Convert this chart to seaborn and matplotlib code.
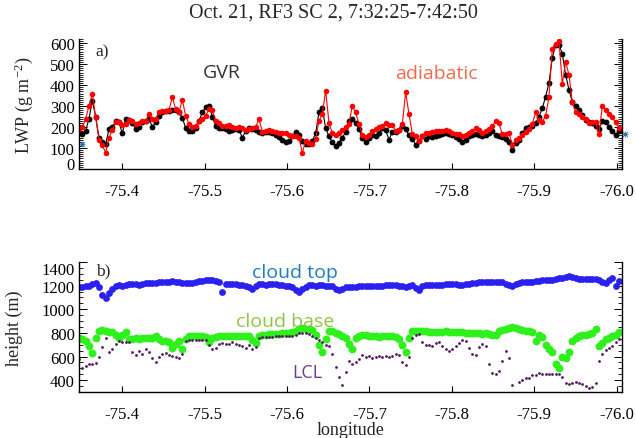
import numpy as np
import pandas as pd
import matplotlib
matplotlib.use("Agg")
import matplotlib.pyplot as plt
import seaborn as sns
from matplotlib.ticker import MultipleLocator, FixedLocator, FormatStrFormatter

# ---------------- data ----------------
lon = [
    -75.3475, -75.3515, -75.3556, -75.3596, -75.3637, -75.3677, -75.3718, -75.3758, -75.3799, -75.3839,
    -75.3880, -75.3920, -75.3960, -75.4001, -75.4041, -75.4082, -75.4122, -75.4163, -75.4203, -75.4244,
    -75.4284, -75.4324, -75.4365, -75.4405, -75.4446, -75.4486, -75.4527, -75.4567, -75.4608, -75.4648,
    -75.4689, -75.4729, -75.4769, -75.4810, -75.4850, -75.4891, -75.4931, -75.4972, -75.5012, -75.5053,
    -75.5093, -75.5133, -75.5174, -75.5214, -75.5255, -75.5295, -75.5336, -75.5376, -75.5417, -75.5457,
    -75.5498, -75.5538, -75.5578, -75.5619, -75.5659, -75.5700, -75.5740, -75.5781, -75.5821, -75.5862,
    -75.5902, -75.5942, -75.5983, -75.6023, -75.6064, -75.6104, -75.6145, -75.6185, -75.6226, -75.6266,
    -75.6307, -75.6347, -75.6387, -75.6428, -75.6468, -75.6509, -75.6549, -75.6590, -75.6630, -75.6671,
    -75.6711, -75.6751, -75.6792, -75.6832, -75.6873, -75.6913, -75.6954, -75.6994, -75.7035, -75.7075,
    -75.7116, -75.7156, -75.7196, -75.7237, -75.7277, -75.7318, -75.7358, -75.7399, -75.7439, -75.7480,
    -75.7520, -75.7560, -75.7601, -75.7641, -75.7682, -75.7722, -75.7763, -75.7803, -75.7844, -75.7884,
    -75.7925, -75.7965, -75.8005, -75.8046, -75.8086, -75.8127, -75.8167, -75.8208, -75.8248, -75.8289,
    -75.8329, -75.8369, -75.8410, -75.8450, -75.8491, -75.8531, -75.8572, -75.8612, -75.8653, -75.8693,
    -75.8734, -75.8774, -75.8814, -75.8855, -75.8895, -75.8936, -75.8976, -75.9017, -75.9057, -75.9098,
    -75.9138, -75.9178, -75.9219, -75.9259, -75.9300, -75.9340, -75.9381, -75.9421, -75.9462, -75.9502,
    -75.9543, -75.9583, -75.9623, -75.9664, -75.9704, -75.9745, -75.9785, -75.9826, -75.9866, -75.9907,
    -75.9947, -75.9987, -76.0028,
]

lwp_gvr = [
    174, 166, 182, 240, 326, 250, 150, 130, 120, 190,
    198, 230, 222, 170, 240, 235, 220, 190, 200, 225,
    230, 240, 200, 225, 255, 270, 278, 275, 280, 282,
    270, 245, 195, 182, 180, 195, 230, 270, 294, 300,
    250, 205, 195, 195, 192, 180, 185, 190, 185, 150,
    180, 195, 192, 185, 176, 174, 178, 176, 170, 162,
    154, 140, 128, 135, 155, 175, 160, 134, 118, 120,
    135, 170, 270, 290, 195, 155, 128, 110, 125, 150,
    175, 230, 240, 220, 190, 150, 130, 148, 162, 155,
    172, 195, 185, 140, 175, 176, 188, 204, 192, 160,
    144, 115, 135, 155, 145, 155, 152, 156, 164, 166,
    172, 168, 160, 152, 144, 130, 138, 155, 164, 166,
    160, 158, 164, 172, 180, 162, 158, 152, 144, 130,
    90, 124, 140, 170, 196, 198, 204, 218, 250, 290,
    345, 410, 530, 590, 592, 550, 450, 378, 320, 300,
    282, 258, 235, 222, 220, 204, 190, 228, 225, 200,
    180, 160, 180,
]

lwp_adiabatic = [
    190, 198, 238, 302, 358, 246, 140, 112, 78, 150,
    185, 225, 226, 210, 215, 235, 230, 214, 218, 228,
    230, 262, 240, 238, 270, 278, 278, 282, 342, 286,
    270, 330, 254, 214, 198, 206, 230, 238, 254, 286,
    280, 230, 218, 206, 206, 210, 198, 194, 198, 194,
    186, 190, 194, 200, 238, 178, 182, 186, 182, 176,
    170, 174, 174, 162, 158, 158, 150, 78, 134, 126,
    118, 142, 230, 260, 374, 220, 170, 162, 174, 186,
    198, 215, 300, 270, 215, 164, 152, 164, 180, 190,
    198, 204, 220, 208, 210, 182, 185, 214, 366, 262,
    168, 156, 134, 158, 172, 174, 176, 180, 182, 182,
    188, 182, 174, 166, 166, 158, 164, 174, 182, 196,
    188, 174, 180, 190, 206, 228, 218, 166, 166, 172,
    112, 140, 150, 164, 176, 190, 214, 270, 232, 226,
    254, 342, 574, 598, 612, 406, 510, 450, 318, 270,
    262, 248, 240, 220, 222, 222, 165, 300, 282, 262,
    246, 222, 195,
]

cloud_top = [
    1187, 1190, 1195, 1200, 1215, 1225, 1190, 1120, 1095, 1140,
    1175, 1195, 1205, 1200, 1207, 1210, 1215, 1212, 1205, 1215,
    1222, 1224, 1224, 1226, 1230, 1228, 1230, 1234, 1238, 1232,
    1230, 1226, 1224, 1222, 1224, 1230, 1236, 1240, 1244, 1245,
    1244, 1238, 1230, 1145, 1215, 1218, 1215, 1210, 1207, 1205,
    1200, 1190, 1175, 1200, 1215, 1210, 1207, 1212, 1215, 1210,
    1207, 1205, 1200, 1195, 1185, 1160, 1145, 1170, 1190, 1205,
    1205, 1200, 1202, 1205, 1200, 1200, 1195, 1170, 1160, 1175,
    1185, 1190, 1190, 1192, 1195, 1198, 1200, 1200, 1200, 1198,
    1200, 1201, 1203, 1205, 1207, 1203, 1200, 1197, 1190, 1195,
    1205, 1178, 1160, 1195, 1205, 1205, 1207, 1207, 1208, 1207,
    1210, 1213, 1215, 1212, 1208, 1207, 1212, 1218, 1224, 1226,
    1228, 1230, 1232, 1234, 1235, 1232, 1230, 1228, 1215, 1205,
    1193, 1215, 1225, 1230, 1232, 1234, 1235, 1238, 1240, 1244,
    1244, 1245, 1250, 1258, 1262, 1264, 1272, 1282, 1275, 1264,
    1260, 1258, 1260, 1258, 1255, 1252, 1245, 1235, 1224, 1250,
    1262, 1195, 1240,
]

cloud_base = [
    761, 747, 733, 690, 634, 761, 818, 824, 818, 810,
    804, 781, 753, 781, 810, 747, 747, 753, 747, 753,
    753, 753, 753, 770, 747, 733, 733, 719, 676, 705,
    733, 662, 747, 770, 770, 770, 776, 770, 764, 720,
    755, 765, 770, 772, 770, 772, 775, 772, 775, 776,
    778, 770, 740, 715, 770, 785, 785, 787, 790, 792,
    790, 795, 800, 800, 810, 815, 835, 840, 832, 830,
    825, 780, 700, 640, 750, 815, 818, 800, 790, 770,
    760, 705, 662, 760, 778, 782, 780, 775, 770, 772,
    768, 775, 778, 775, 770, 765, 750, 700, 635, 760,
    815, 818, 815, 812, 815, 810, 810, 808, 810, 808,
    812, 808, 804, 806, 808, 804, 800, 795, 798, 800,
    797, 792, 795, 790, 780, 785, 815, 825, 832, 845,
    848, 840, 832, 826, 820, 812, 805, 730, 780, 765,
    700, 668, 640, 534, 506, 600, 585, 640, 730, 755,
    770, 780, 785, 790, 795, 830, 690, 715, 745, 760,
    772, 785, 804,
]

lcl = [
    577, 500, 520, 534, 540, 549, 600, 680, 761, 640,
    662, 710, 733, 725, 719, 719, 640, 615, 648, 620,
    662, 640, 590, 555, 600, 620, 634, 610, 605, 595,
    590, 620, 733, 741, 741, 743, 741, 741, 740, 700,
    662, 676, 705, 712, 705, 705, 720, 705, 700, 690,
    670, 700, 665, 680, 761, 764, 764, 766, 768, 770,
    770, 772, 772, 774, 776, 785, 795, 800, 795, 790,
    775, 760, 740, 720, 700, 690, 620, 510, 430, 360,
    470, 560, 540, 550, 575, 615, 600, 605, 590, 600,
    605, 600, 605, 600, 605, 625, 610, 555, 525, 600,
    755, 785, 790, 725, 695, 700, 690, 715, 719, 690,
    662, 650, 660, 690, 715, 740, 735, 675, 620, 615,
    680, 710, 690, 540, 460, 449, 480, 560, 650, 590,
    360, 280, 385, 400, 418, 421, 440, 445, 460, 455,
    452, 449, 449, 455, 449, 430, 380, 364, 375, 385,
    378, 368, 352, 338, 345, 380, 560, 620, 655, 670,
    690, 725, 750,
]

edge_lon = [-75.3508, -76.0107]
edge_lwp = [120, 165]

lon_ticks = [-75.4, -75.5, -75.6, -75.7, -75.8, -75.9, -76.0]
lwp_ticks = [0, 100, 200, 300, 400, 500, 600]
height_ticks = [400, 600, 800, 1000, 1200, 1400]

df = pd.DataFrame({
    "lon": lon, "gvr": lwp_gvr, "adiabatic": lwp_adiabatic,
    "top": cloud_top, "base": cloud_base, "lcl": lcl,
})
edge = pd.DataFrame({"lon": edge_lon, "lwp": edge_lwp})

# ---------------- style ----------------
sns.set_style("ticks")
plt.rcParams["font.family"] = ["Liberation Serif", "DejaVu Serif"]
plt.rcParams["mathtext.fontset"] = "custom"
plt.rcParams["mathtext.rm"] = "Liberation Serif"
plt.rcParams["mathtext.it"] = "Liberation Serif:italic"
plt.rcParams["axes.unicode_minus"] = False

SANS = ["Open Sans", "DejaVu Sans"]

fig = plt.figure(figsize=(6.36, 4.39), dpi=100)
ax1 = fig.add_axes([0.1242, 0.6128, 0.8538, 0.2961])
ax2 = fig.add_axes([0.1242, 0.1048, 0.8538, 0.2961])

# ---- panel a ----
sns.lineplot(data=df, x="lon", y="gvr", ax=ax1, color="black", marker="o",
             markersize=4.2, markeredgewidth=0, linewidth=0.8,
             sort=False, estimator=None)
sns.lineplot(data=df, x="lon", y="adiabatic", ax=ax1, color="#ff0000", marker="o",
             markersize=4.0, markeredgewidth=0, linewidth=0.8,
             sort=False, estimator=None)
sns.scatterplot(data=edge, x="lon", y="lwp", ax=ax1, color="#22cc22", marker="+",
                s=22, linewidth=0.8, clip_on=False)
sns.scatterplot(data=edge, x="lon", y="lwp", ax=ax1, color="#3344ff", marker="x",
                s=10, linewidth=0.7, clip_on=False)

# ---- panel b ----
sns.scatterplot(data=df, x="lon", y="top", ax=ax2, color="#2a20f0", s=24,
                linewidth=0)
sns.scatterplot(data=df, x="lon", y="base", ax=ax2, color="#2ef01a", s=32,
                linewidth=0)
sns.scatterplot(data=df, x="lon", y="lcl", ax=ax2, color="#501a5e", s=4,
                linewidth=0)

for ax in (ax1, ax2):
    ax.set_xlim(-75.3475, -76.0065)
    ax.xaxis.set_major_locator(FixedLocator(lon_ticks))
    ax.xaxis.set_major_formatter(FormatStrFormatter("%.1f"))
    ax.spines["top"].set_visible(False)
    for s in ("left", "right", "bottom"):
        ax.spines[s].set_linewidth(1.0)
        ax.spines[s].set_color("black")
    ax.tick_params(axis="x", which="major", direction="in", length=4, width=0.8,
                   top=False, bottom=True, pad=10, labelsize=12, colors="black")
    ax.tick_params(axis="y", which="both", direction="in", left=True, right=True,
                   labelright=False, labelsize=12, pad=3, colors="black")
    ax.tick_params(axis="y", which="major", length=6, width=0.7)
    ax.tick_params(axis="y", which="minor", length=3, width=0.6)
    ax.set_xlabel("")
    ax.set_ylabel("")

ax1.set_ylim(0, 620)
ax1.yaxis.set_major_locator(FixedLocator(lwp_ticks))
ax1.yaxis.set_minor_locator(MultipleLocator(10))
ax2.set_ylim(300, 1400)
ax2.yaxis.set_major_locator(FixedLocator(height_ticks))
ax2.yaxis.set_minor_locator(MultipleLocator(50))

ax1.set_ylabel("LWP (g m$^{-2}$)", fontsize=13)
ax1.yaxis.set_label_coords(-0.081, 0.5)
ax2.set_ylabel("height (m)", fontsize=13)
ax2.yaxis.set_label_coords(-0.103, 0.5)
ax2.set_xlabel("longitude", fontsize=13)
ax2.xaxis.set_label_coords(0.5, -0.225)

# edge tick label alignment (as in the original)
ax1.yaxis.get_major_ticks()[0].label1.set_va("baseline")
ax2.yaxis.get_major_ticks()[-1].label1.set_va("top")

# panel letters
ax1.text(0.031, 0.877, "a)", transform=ax1.transAxes, fontsize=12.5,
         ha="left", va="baseline")
ax2.text(0.031, 0.908, "b)", transform=ax2.transAxes, fontsize=12.5,
         ha="left", va="baseline")

# series annotations
ax1.text(0.263, 0.708, "GVR", transform=ax1.transAxes, fontsize=14,
         color="#333333", family=SANS, ha="center", va="baseline")
ax1.text(0.658, 0.700, "adiabatic", transform=ax1.transAxes, fontsize=14,
         color="#f26a4b", family=SANS, ha="center", va="baseline")
ax2.text(0.397, 0.885, "cloud top", transform=ax2.transAxes, fontsize=14,
         color="#1d7cc4", family=SANS, ha="center", va="baseline")
ax2.text(0.379, 0.510, "cloud base", transform=ax2.transAxes, fontsize=14,
         color="#8ec641", family=SANS, ha="center", va="baseline")
ax2.text(0.421, 0.118, "LCL", transform=ax2.transAxes, fontsize=13,
         color="#6b3c97", family=SANS, ha="center", va="baseline")

fig.text(0.524, 0.959, "Oct. 21, RF3 SC 2, 7:32:25-7:42:50", fontsize=14.5,
         ha="center", va="baseline")

fig.savefig("out.png", dpi=100)
